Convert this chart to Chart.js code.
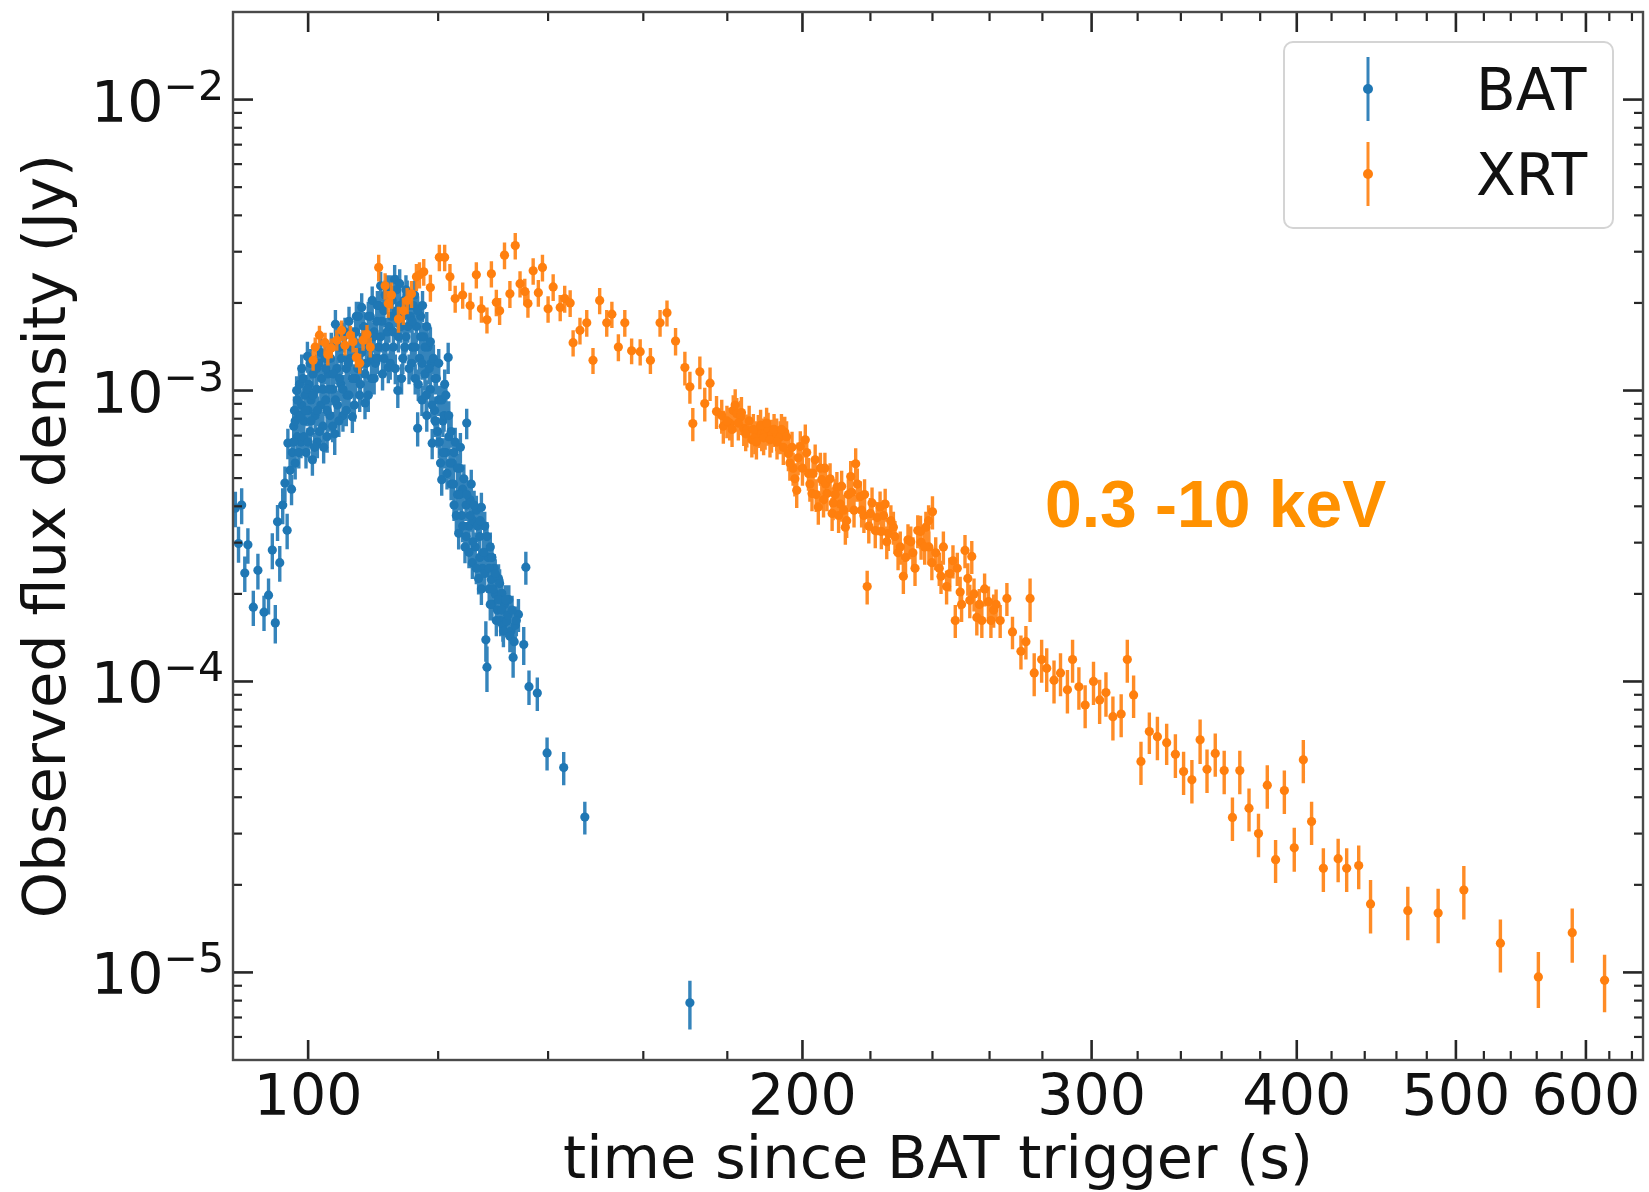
<!DOCTYPE html>
<html lang="en">
<head>
    <meta charset="UTF-8">
    <title>BAT and XRT light curve</title>
    <script src="https://cdn.jsdelivr.net/npm/chart.js"></script>
    <style>
        html, body {
            margin: 0;
            padding: 0;
            background: #ffffff;
        }
        #lc {
            display: block;
        }
    </style>
</head>
<body>
    <canvas id="lc" width="1649" height="1192"></canvas>

    <script>
        // BAT points: time since trigger (s), flux density (Jy), 1-sigma error (Jy)
        const batTime = [
            90.3, 90.7, 91.1, 91.5, 91.9, 92.6, 93.2, 94.0, 94.6, 95.1,
            95.5, 95.8, 96.1, 96.5, 96.8, 97.1, 97.2, 97.5, 97.8, 98.0,
            98.1, 98.2, 98.4, 98.5, 98.7, 98.8, 99.0, 99.1, 99.3, 99.4,
            99.6, 99.7, 99.9, 100.0, 100.1, 100.3, 100.4, 100.6, 100.7, 101.0,
            101.2, 101.3, 101.5, 101.8, 101.9, 102.1, 102.4, 102.5, 102.7, 102.8,
            103.1, 103.3, 103.5, 103.8, 103.9, 104.1, 104.2, 104.5, 104.7, 105.0,
            105.1, 105.5, 105.6, 105.9, 106.1, 106.4, 106.5, 106.9, 107.0, 107.3,
            107.5, 107.8, 108.0, 108.3, 108.5, 108.8, 108.9, 109.3, 109.4, 109.7,
            109.9, 110.2, 110.4, 110.7, 110.9, 111.2, 111.4, 111.7, 111.9, 112.2,
            112.4, 112.7, 112.9, 113.2, 113.4, 113.7, 113.9, 114.2, 114.4, 114.7,
            114.9, 115.2, 115.4, 115.7, 115.9, 116.2, 116.4, 116.6, 116.9, 117.1,
            117.3, 117.6, 117.8, 118.1, 118.3, 118.7, 118.8, 119.0, 119.4, 119.5,
            119.9, 120.1, 120.4, 120.6, 120.8, 121.1, 121.3, 121.7, 121.8, 122.2,
            122.4, 122.7, 122.9, 123.3, 123.5, 123.7, 124.0, 124.2, 124.6, 124.8,
            124.9, 125.3, 125.5, 125.9, 126.0, 126.4, 126.6, 127.0, 127.2, 127.5,
            127.7, 128.1, 128.3, 128.5, 128.7, 128.9, 129.1, 129.3, 129.4, 129.8,
            130.0, 130.4, 130.6, 131.0, 131.2, 131.4, 131.7, 132.1, 132.5, 132.9,
            133.3, 133.7, 134.3, 135.3, 135.7, 136.3, 137.9, 139.8, 143.1, 147.4,
            170.8,
            // second pass through the dense part of the pulse
            97.7, 98.0, 98.2, 98.5, 98.7, 99.0, 99.1, 99.4, 99.6, 99.9,
            100.0, 100.3, 100.4, 100.7, 100.9, 101.2, 101.3, 101.6, 101.8, 102.1,
            102.2, 102.5, 102.7, 103.0, 103.2, 103.5, 103.6, 103.9, 104.1, 104.4,
            104.5, 104.8, 105.0, 105.3, 105.5, 105.8, 105.9, 106.2, 106.4, 106.7,
            106.9, 107.2, 107.3, 107.6, 107.8, 108.1, 108.3, 108.6, 108.8, 109.1,
            109.3, 109.6, 109.7, 110.1, 110.2, 110.5, 110.7, 111.0, 111.2, 111.5,
            111.7, 112.0, 112.2, 112.5, 112.7, 113.0, 113.2, 113.5, 113.7, 114.0,
            114.2, 114.5, 114.7, 115.0, 115.2, 115.6, 115.7, 116.1, 116.2, 116.6,
            116.7, 117.1, 117.3, 117.4, 117.8, 118.0, 118.1, 118.5, 118.7, 119.0,
            119.2, 119.5, 119.7, 120.1, 120.2, 120.6, 120.8, 121.0, 121.3, 121.5,
            121.8, 122.0, 122.2, 122.6, 122.7, 123.1, 123.3, 123.7, 123.8, 124.2,
            124.4, 124.8, 124.9, 125.3, 125.5, 125.7, 126.0, 126.2, 126.6, 126.8,
            127.2, 127.3, 127.5, 127.9, 128.1, 128.5, 128.9, 129.1, 129.4, 129.6,
            130.0, 130.2, 130.6, 130.8, 131.2, 131.5, 131.9, 132.3, 132.7, 133.1,
            133.5, 133.9
        ];
        const batFlux = [
            3.94e-4, 2.98e-4, 4.04e-4, 2.36e-4, 2.95e-4, 1.80e-4, 2.41e-4, 1.73e-4, 1.98e-4, 2.83e-4,
            1.59e-4, 3.54e-4, 2.56e-4, 4.04e-4, 4.81e-4, 3.31e-4, 6.60e-4, 5.32e-4, 6.12e-4, 7.54e-4,
            8.54e-4, 5.63e-4, 1.00e-3, 6.94e-4, 8.20e-4, 1.05e-3, 6.65e-4, 8.91e-4, 1.10e-3, 7.86e-4,
            9.64e-4, 6.12e-4, 1.31e-3, 8.54e-4, 1.05e-3, 7.23e-4, 9.28e-4, 5.78e-4, 1.14e-3, 8.20e-4,
            1.01e-3, 6.65e-4, 1.24e-3, 8.91e-4, 1.10e-3, 7.54e-4, 1.29e-3, 9.28e-4, 6.94e-4, 1.14e-3,
            8.20e-4, 1.41e-3, 1.01e-3, 7.10e-4, 1.69e-3, 1.19e-3, 8.91e-4, 1.41e-3, 1.05e-3, 8.20e-4,
            1.53e-3, 1.19e-3, 9.64e-4, 1.73e-3, 1.29e-3, 8.13e-4, 1.47e-3, 1.10e-3, 1.80e-3, 1.35e-3,
            9.64e-4, 1.93e-3, 1.53e-3, 9.06e-4, 1.24e-3, 1.80e-3, 1.41e-3, 1.10e-3, 2.04e-3, 1.59e-3,
            1.24e-3, 1.96e-3, 1.41e-3, 2.29e-3, 1.73e-3, 1.29e-3, 2.13e-3, 1.59e-3, 1.20e-3, 2.22e-3,
            1.80e-3, 1.41e-3, 2.41e-3, 1.88e-3, 1.00e-3, 2.33e-3, 1.66e-3, 1.29e-3, 2.04e-3, 1.53e-3,
            2.13e-3, 1.19e-3, 1.80e-3, 1.41e-3, 1.96e-3, 1.10e-3, 1.66e-3, 7.42e-4, 1.29e-3, 1.80e-3,
            9.28e-4, 1.53e-3, 1.14e-3, 8.20e-4, 1.41e-3, 1.01e-3, 1.24e-3, 6.59e-4, 8.54e-4, 1.10e-3,
            7.23e-4, 9.28e-4, 5.63e-4, 4.94e-4, 7.86e-4, 1.05e-3, 6.12e-4, 1.30e-3, 6.94e-4, 4.77e-4,
            5.63e-4, 4.04e-4, 6.65e-4, 4.39e-4, 3.23e-4, 5.41e-4, 3.72e-4, 4.58e-4, 2.90e-4, 4.04e-4,
            7.73e-4, 3.42e-4, 4.21e-4, 2.56e-4, 3.57e-4, 2.90e-4, 3.88e-4, 2.26e-4, 3.15e-4, 3.97e-4,
            2.45e-4, 3.42e-4, 1.39e-4, 1.12e-4, 2.67e-4, 2.08e-4, 2.90e-4, 2.24e-4, 1.84e-4, 2.45e-4,
            2.00e-4, 1.76e-4, 2.26e-4, 1.62e-4, 2.01e-4, 1.56e-4, 1.84e-4, 1.61e-4, 1.91e-4, 1.49e-4,
            1.21e-4, 1.56e-4, 1.70e-4, 1.34e-4, 2.47e-4, 9.60e-5, 9.12e-5, 5.68e-5, 5.06e-5, 3.42e-5,
            7.86e-6,
            4.58e-4, 6.65e-4, 7.86e-4, 9.28e-4, 6.12e-4, 8.20e-4, 1.19e-3, 6.94e-4, 8.54e-4, 1.01e-3,
            6.65e-4, 1.24e-3, 7.86e-4, 9.64e-4, 6.38e-4, 1.19e-3, 8.54e-4, 7.23e-4, 1.35e-3, 1.01e-3,
            6.38e-4, 1.19e-3, 8.54e-4, 1.01e-3, 1.29e-3, 7.54e-4, 1.14e-3, 9.28e-4, 1.47e-3, 7.86e-4,
            1.10e-3, 1.29e-3, 1.01e-3, 1.59e-3, 8.54e-4, 1.24e-3, 9.64e-4, 1.41e-3, 1.10e-3, 8.91e-4,
            1.59e-3, 1.19e-3, 1.80e-3, 1.05e-3, 1.35e-3, 1.66e-3, 1.14e-3, 1.47e-3, 9.64e-4, 1.80e-3,
            1.29e-3, 1.53e-3, 1.10e-3, 1.73e-3, 1.29e-3, 1.96e-3, 1.53e-3, 1.14e-3, 1.88e-3, 1.41e-3,
            2.22e-3, 1.66e-3, 1.24e-3, 2.04e-3, 1.59e-3, 1.19e-3, 2.22e-3, 1.53e-3, 1.96e-3, 1.10e-3,
            1.80e-3, 1.41e-3, 2.22e-3, 1.66e-3, 1.96e-3, 1.24e-3, 1.73e-3, 2.13e-3, 1.41e-3, 1.88e-3,
            1.05e-3, 1.53e-3, 1.24e-3, 1.96e-3, 1.41e-3, 9.64e-4, 1.66e-3, 1.19e-3, 1.47e-3, 8.91e-4,
            1.29e-3, 7.86e-4, 1.10e-3, 1.24e-3, 6.65e-4, 9.28e-4, 6.12e-4, 8.20e-4, 9.64e-4, 5.19e-4,
            8.20e-4, 5.63e-4, 7.23e-4, 4.77e-4, 6.12e-4, 3.72e-4, 5.41e-4, 4.39e-4, 6.38e-4, 3.42e-4,
            4.97e-4, 3.15e-4, 4.39e-4, 2.78e-4, 3.72e-4, 4.77e-4, 3.02e-4, 4.04e-4, 2.45e-4, 3.42e-4,
            2.67e-4, 3.57e-4, 2.08e-4, 2.78e-4, 2.35e-4, 3.15e-4, 2.45e-4, 1.84e-4, 2.67e-4, 2.08e-4,
            2.35e-4, 1.62e-4, 1.91e-4, 2.17e-4, 1.76e-4, 1.49e-4, 1.91e-4, 1.69e-4, 1.43e-4, 1.76e-4,
            1.37e-4, 1.62e-4
        ];
        const batErr = [
            5.5e-5, 4.2e-5, 5.7e-5, 3.3e-5, 4.1e-5, 2.5e-5, 3.4e-5, 2.4e-5, 2.8e-5, 4.0e-5,
            2.4e-5, 5.0e-5, 3.6e-5, 5.7e-5, 6.7e-5, 4.6e-5, 7.9e-5, 6.4e-5, 7.3e-5, 9.0e-5,
            1.0e-4, 6.8e-5, 1.2e-4, 8.3e-5, 9.8e-5, 1.3e-4, 8.0e-5, 1.1e-4, 1.3e-4, 9.4e-5,
            1.2e-4, 7.3e-5, 1.6e-4, 1.0e-4, 1.3e-4, 8.7e-5, 1.1e-4, 6.9e-5, 1.4e-4, 9.8e-5,
            1.2e-4, 8.0e-5, 1.5e-4, 1.1e-4, 1.3e-4, 9.0e-5, 1.5e-4, 1.1e-4, 8.3e-5, 1.4e-4,
            9.8e-5, 1.7e-4, 1.2e-4, 1.1e-4, 2.0e-4, 1.4e-4, 1.1e-4, 1.7e-4, 1.3e-4, 9.8e-5,
            1.8e-4, 1.4e-4, 1.2e-4, 2.1e-4, 1.5e-4, 9.8e-5, 1.8e-4, 1.3e-4, 2.2e-4, 1.6e-4,
            1.2e-4, 2.3e-4, 1.8e-4, 1.1e-4, 1.5e-4, 2.2e-4, 1.7e-4, 1.3e-4, 2.4e-4, 1.9e-4,
            1.5e-4, 2.4e-4, 1.7e-4, 2.7e-4, 2.1e-4, 1.5e-4, 2.6e-4, 1.9e-4, 1.4e-4, 2.7e-4,
            2.2e-4, 1.7e-4, 2.9e-4, 2.3e-4, 1.3e-4, 2.8e-4, 2.0e-4, 1.5e-4, 2.4e-4, 1.8e-4,
            2.6e-4, 1.4e-4, 2.2e-4, 1.7e-4, 2.4e-4, 1.3e-4, 2.0e-4, 1.0e-4, 1.5e-4, 2.2e-4,
            1.1e-4, 1.8e-4, 1.4e-4, 9.8e-5, 1.7e-4, 1.2e-4, 1.5e-4, 7.9e-5, 1.0e-4, 1.3e-4,
            8.7e-5, 1.1e-4, 6.8e-5, 5.9e-5, 9.4e-5, 1.3e-4, 7.3e-5, 1.6e-4, 8.3e-5, 5.7e-5,
            6.8e-5, 4.8e-5, 8.0e-5, 5.3e-5, 3.9e-5, 6.5e-5, 4.5e-5, 5.5e-5, 3.5e-5, 4.8e-5,
            9.3e-5, 4.1e-5, 5.1e-5, 3.1e-5, 4.3e-5, 3.5e-5, 4.7e-5, 2.7e-5, 3.8e-5, 4.8e-5,
            2.9e-5, 4.1e-5, 2.2e-5, 2.0e-5, 3.2e-5, 2.5e-5, 3.5e-5, 2.7e-5, 2.2e-5, 2.9e-5,
            2.4e-5, 2.1e-5, 2.7e-5, 1.9e-5, 2.4e-5, 1.9e-5, 2.2e-5, 1.9e-5, 2.3e-5, 1.8e-5,
            1.8e-5, 1.9e-5, 2.2e-5, 2.0e-5, 3.2e-5, 1.3e-5, 1.2e-5, 7.4e-6, 6.6e-6, 4.4e-6,
            1.5e-6,
            5.5e-5, 8.0e-5, 9.4e-5, 1.1e-4, 7.3e-5, 9.8e-5, 1.4e-4, 8.3e-5, 1.0e-4, 1.2e-4,
            8.0e-5, 1.5e-4, 9.4e-5, 1.2e-4, 7.7e-5, 1.4e-4, 1.0e-4, 8.7e-5, 1.6e-4, 1.2e-4,
            7.7e-5, 1.4e-4, 1.0e-4, 1.2e-4, 1.5e-4, 9.0e-5, 1.4e-4, 1.1e-4, 1.8e-4, 9.4e-5,
            1.3e-4, 1.5e-4, 1.2e-4, 1.9e-4, 1.0e-4, 1.5e-4, 1.2e-4, 1.7e-4, 1.3e-4, 1.1e-4,
            1.9e-4, 1.4e-4, 2.2e-4, 1.3e-4, 1.6e-4, 2.0e-4, 1.4e-4, 1.8e-4, 1.2e-4, 2.2e-4,
            1.5e-4, 1.8e-4, 1.3e-4, 2.1e-4, 1.5e-4, 2.4e-4, 1.8e-4, 1.4e-4, 2.3e-4, 1.7e-4,
            2.7e-4, 2.0e-4, 1.5e-4, 2.4e-4, 1.9e-4, 1.4e-4, 2.7e-4, 1.8e-4, 2.4e-4, 1.3e-4,
            2.2e-4, 1.7e-4, 2.7e-4, 2.0e-4, 2.4e-4, 1.5e-4, 2.1e-4, 2.6e-4, 1.7e-4, 2.3e-4,
            1.3e-4, 1.8e-4, 1.5e-4, 2.4e-4, 1.7e-4, 1.2e-4, 2.0e-4, 1.4e-4, 1.8e-4, 1.1e-4,
            1.5e-4, 9.4e-5, 1.3e-4, 1.5e-4, 8.0e-5, 1.1e-4, 7.3e-5, 9.8e-5, 1.2e-4, 6.2e-5,
            9.8e-5, 6.8e-5, 8.7e-5, 5.7e-5, 7.3e-5, 4.5e-5, 6.5e-5, 5.3e-5, 7.7e-5, 4.1e-5,
            6.0e-5, 3.8e-5, 5.3e-5, 3.3e-5, 4.5e-5, 5.7e-5, 3.6e-5, 4.8e-5, 2.9e-5, 4.1e-5,
            3.2e-5, 4.3e-5, 2.5e-5, 3.3e-5, 2.8e-5, 3.8e-5, 2.9e-5, 2.2e-5, 3.2e-5, 2.5e-5,
            2.8e-5, 1.9e-5, 2.3e-5, 2.6e-5, 2.1e-5, 1.8e-5, 2.3e-5, 2.0e-5, 1.7e-5, 2.1e-5,
            1.7e-5, 1.9e-5
        ];

        // XRT points
        const xrtTime = [
            100.7, 101.0, 101.6, 102.4, 102.8, 103.3, 104.1, 104.8, 105.3, 106.1,
            106.5, 107.0, 107.5, 108.0, 108.6, 109.1,
            110.4, 111.4, 111.9, 112.4, 113.5, 114.3, 114.9, 115.6, 116.4, 116.9, 117.6, 118.7,
            120.2, 121.1, 122.0, 122.9, 124.2, 125.5, 126.6, 127.5, 128.5, 129.3, 130.2,
            130.8, 131.7, 132.7, 133.7, 134.6, 135.5, 136.1, 137.1, 138.1, 138.9,
            140.0, 141.0, 142.4, 143.3, 144.4, 145.0, 146.4, 147.8, 149.1, 150.5,
            152.0, 153.1, 154.5, 155.9, 157.4, 159.3, 161.6, 163.8, 165.4, 167.4,
            169.6, 170.8, 171.5, 173.2, 174.4, 175.7, 177.3, 179.0, 180.6, 181.5,
            182.4, 183.4, 184.2, 185.0, 186.3, 187.2, 188.0, 188.9, 189.8, 190.6,
            191.5, 192.9, 193.9, 195.1, 196.1, 197.4, 198.4, 199.4, 200.8, 201.7,
            202.7, 203.6, 204.5, 205.5, 206.4, 207.0, 208.5, 209.9, 210.9, 212.4,
            213.3, 214.0, 215.5, 216.9, 218.0, 219.0, 220.0, 221.5, 223.0, 224.6,
            225.6, 227.2, 228.7, 230.4, 231.9, 233.5, 235.1, 236.2, 237.8, 238.8,
            240.0, 241.1, 242.9, 244.8, 247.0, 247.8, 249.5, 251.2, 252.9, 253.6,
            255.4, 257.2, 259.6, 261.5, 263.9,
            266.4, 268.5, 271.7, 273.6,
            275.2, 276.8, 279.7, 281.7, 284.6, 287.2, 290.0, 292.1, 294.7, 297.3,
            300.8, 303.4, 306.1, 309.1, 312.7, 315.4, 318.2, 321.5, 325.3, 329.0,
            333.3, 337.4, 341.3, 345.3, 349.3, 352.7, 356.8, 361.3, 365.5, 369.3,
            374.1, 379.1, 383.8, 388.3, 393.1, 398.6, 403.7, 408.4, 415.2, 423.9,
            429.0, 436.3, 443.6, 467.4, 487.7, 505.6, 532.2, 561.3, 588.6, 615.9,
            // dense stretch of the decay
            178.6, 179.9, 181.2, 182.0, 182.8, 183.6, 184.7, 185.6, 186.7, 187.5,
            188.6, 189.4, 190.2, 191.1, 192.2, 193.0, 194.2, 194.7, 195.6, 196.5,
            197.1, 197.9, 198.8, 200.0, 201.2, 202.1, 203.0, 203.9, 205.1, 206.0,
            206.6, 207.9, 208.8, 209.4, 210.4, 211.3, 211.9, 212.8, 214.3, 215.0,
            216.0, 217.3, 218.2, 219.5, 220.5, 222.1, 223.4, 224.1, 225.1, 226.4,
            227.7, 229.4, 231.1, 232.8, 234.2, 236.0, 237.4, 238.7, 239.8, 242.3,
            243.7, 245.9, 248.5, 250.0, 252.2, 254.4, 256.3, 258.2, 260.5, 262.4
        ];
        const xrtFlux = [
            1.27e-3, 1.41e-3, 1.55e-3, 1.46e-3, 1.33e-3, 1.40e-3, 1.49e-3, 1.61e-3, 1.43e-3, 1.55e-3,
            1.47e-3, 1.30e-3, 1.24e-3, 1.49e-3, 1.56e-3, 1.41e-3,
            2.65e-3, 2.29e-3, 1.99e-3, 2.13e-3, 1.76e-3, 1.88e-3, 2.04e-3, 2.15e-3, 2.46e-3, 2.50e-3, 2.56e-3, 2.26e-3,
            2.87e-3, 2.87e-3, 2.46e-3, 2.07e-3, 2.13e-3, 1.96e-3, 2.50e-3, 1.91e-3, 1.75e-3, 2.52e-3, 2.01e-3,
            1.88e-3, 2.92e-3, 2.15e-3, 3.15e-3, 2.33e-3, 2.19e-3, 1.99e-3, 2.58e-3, 2.17e-3, 2.65e-3,
            1.91e-3, 2.27e-3, 1.93e-3, 2.07e-3, 2.00e-3, 1.46e-3, 1.61e-3, 1.71e-3, 1.27e-3, 2.04e-3,
            1.71e-3, 1.83e-3, 1.41e-3, 1.71e-3, 1.37e-3, 1.36e-3, 1.27e-3, 1.71e-3, 1.85e-3, 1.48e-3,
            1.20e-3, 1.03e-3, 7.70e-4, 1.16e-3, 9.02e-4, 1.06e-3, 8.47e-4, 7.54e-4, 7.73e-4, 8.54e-4,
            8.32e-4, 8.13e-4, 7.41e-4, 7.32e-4, 6.77e-4, 6.94e-4, 7.29e-4, 7.10e-4, 7.19e-4, 7.42e-4,
            7.02e-4, 7.10e-4, 6.94e-4, 7.19e-4, 6.07e-4, 5.41e-4, 4.54e-4, 6.42e-4, 6.77e-4, 5.19e-4,
            4.43e-4, 5.78e-4, 3.98e-4, 4.94e-4, 5.41e-4, 4.43e-4, 3.78e-4, 4.65e-4, 4.07e-4, 3.39e-4,
            4.39e-4, 5.06e-4, 5.60e-4, 4.32e-4, 3.72e-4, 2.12e-4, 3.78e-4, 3.30e-4, 3.98e-4, 4.07e-4,
            3.23e-4, 3.39e-4, 2.77e-4, 2.30e-4, 3.07e-4, 2.77e-4, 3.30e-4, 3.01e-4, 3.39e-4, 2.90e-4,
            3.83e-4, 2.77e-4, 2.30e-4, 2.12e-4, 2.60e-4, 1.62e-4, 2.03e-4, 2.82e-4, 1.90e-4, 2.69e-4,
            1.66e-4, 1.62e-4, 1.88e-4, 1.76e-4, 1.62e-4,
            1.93e-4, 1.48e-4, 1.27e-4, 1.37e-4,
            1.93e-4, 1.07e-4, 1.19e-4, 1.11e-4, 1.01e-4, 1.07e-4, 9.36e-5, 1.19e-4, 9.59e-5, 8.30e-5,
            1.00e-4, 8.64e-5, 9.16e-5, 7.57e-5, 7.73e-5, 1.19e-4, 8.99e-5, 5.31e-5, 6.73e-5, 6.46e-5,
            6.16e-5, 5.62e-5, 4.90e-5, 4.59e-5, 6.30e-5, 4.99e-5, 5.66e-5, 4.94e-5, 3.41e-5, 4.94e-5,
            3.67e-5, 3.00e-5, 4.40e-5, 2.44e-5, 4.22e-5, 2.68e-5, 5.38e-5, 3.30e-5, 2.28e-5, 2.46e-5,
            2.28e-5, 2.33e-5, 1.72e-5, 1.63e-5, 1.60e-5, 1.92e-5, 1.26e-5, 9.65e-6, 1.37e-5, 9.39e-6,
            8.20e-4, 7.86e-4, 7.35e-4, 8.91e-4, 7.73e-4, 8.40e-4, 7.10e-4, 7.86e-4, 7.35e-4, 6.65e-4,
            7.60e-4, 6.88e-4, 7.73e-4, 6.77e-4, 7.35e-4, 6.65e-4, 7.35e-4, 6.38e-4, 6.94e-4, 5.63e-4,
            6.38e-4, 4.97e-4, 5.87e-4, 5.41e-4, 6.12e-4, 4.77e-4, 5.19e-4, 4.39e-4, 5.41e-4, 4.21e-4,
            4.77e-4, 4.97e-4, 4.11e-4, 4.39e-4, 3.72e-4, 4.69e-4, 3.88e-4, 3.57e-4, 4.47e-4, 3.88e-4,
            4.77e-4, 3.88e-4, 4.39e-4, 3.42e-4, 4.11e-4, 3.66e-4, 3.28e-4, 3.72e-4, 3.02e-4, 3.57e-4,
            3.15e-4, 2.90e-4, 2.67e-4, 3.02e-4, 2.45e-4, 3.28e-4, 2.90e-4, 3.57e-4, 2.56e-4, 2.45e-4,
            2.90e-4, 2.35e-4, 2.45e-4, 1.84e-4, 2.26e-4, 2.00e-4, 1.84e-4, 2.08e-4, 1.62e-4, 1.84e-4
        ];
        const xrtErr = [
            1.0e-4, 1.1e-4, 1.2e-4, 1.2e-4, 1.1e-4, 1.1e-4, 1.2e-4, 1.3e-4, 1.1e-4, 1.2e-4,
            1.2e-4, 1.0e-4, 9.9e-5, 1.2e-4, 1.2e-4, 1.1e-4,
            2.8e-4, 2.4e-4, 2.1e-4, 2.2e-4, 1.8e-4, 2.0e-4, 2.1e-4, 2.3e-4, 2.6e-4, 2.6e-4, 2.7e-4, 2.4e-4,
            3.0e-4, 3.0e-4, 2.6e-4, 2.2e-4, 2.2e-4, 2.1e-4, 2.6e-4, 2.0e-4, 1.8e-4, 2.6e-4, 2.1e-4,
            2.0e-4, 3.1e-4, 2.3e-4, 3.3e-4, 2.4e-4, 2.3e-4, 2.1e-4, 2.7e-4, 2.3e-4, 2.8e-4,
            2.0e-4, 2.4e-4, 2.0e-4, 2.2e-4, 2.1e-4, 1.5e-4, 1.7e-4, 1.8e-4, 1.3e-4, 2.1e-4,
            1.8e-4, 1.9e-4, 1.5e-4, 1.8e-4, 1.4e-4, 1.4e-4, 1.3e-4, 1.8e-4, 1.9e-4, 1.6e-4,
            1.6e-4, 1.3e-4, 1.0e-4, 1.5e-4, 1.2e-4, 1.4e-4, 1.1e-4, 9.8e-5, 1.0e-4, 1.1e-4,
            1.1e-4, 1.1e-4, 9.6e-5, 9.5e-5, 8.8e-5, 9.0e-5, 9.5e-5, 9.2e-5, 9.3e-5, 9.6e-5,
            9.1e-5, 9.2e-5, 9.0e-5, 9.3e-5, 7.9e-5, 7.0e-5, 5.9e-5, 8.3e-5, 8.8e-5, 6.7e-5,
            5.8e-5, 7.5e-5, 5.2e-5, 6.4e-5, 7.0e-5, 5.8e-5, 4.9e-5, 6.0e-5, 5.3e-5, 4.4e-5,
            5.7e-5, 6.6e-5, 7.3e-5, 5.6e-5, 4.8e-5, 2.8e-5, 4.9e-5, 4.3e-5, 5.2e-5, 5.3e-5,
            4.2e-5, 4.4e-5, 3.6e-5, 3.0e-5, 4.0e-5, 3.6e-5, 4.3e-5, 3.9e-5, 4.4e-5, 3.8e-5,
            5.0e-5, 3.6e-5, 3.0e-5, 2.8e-5, 3.4e-5, 2.1e-5, 2.6e-5, 3.7e-5, 2.5e-5, 3.5e-5,
            2.2e-5, 2.1e-5, 2.4e-5, 2.3e-5, 2.1e-5,
            2.5e-5, 1.9e-5, 1.7e-5, 1.8e-5,
            3.3e-5, 1.8e-5, 2.0e-5, 1.9e-5, 1.7e-5, 1.8e-5, 1.6e-5, 2.0e-5, 1.6e-5, 1.4e-5,
            1.7e-5, 1.5e-5, 1.6e-5, 1.3e-5, 1.3e-5, 2.0e-5, 1.5e-5, 9.0e-6, 1.1e-5, 1.1e-5,
            1.0e-5, 9.6e-6, 8.3e-6, 7.8e-6, 1.1e-5, 8.5e-6, 9.6e-6, 8.4e-6, 5.8e-6, 8.4e-6,
            6.2e-6, 5.1e-6, 7.5e-6, 4.1e-6, 7.2e-6, 4.6e-6, 9.1e-6, 5.6e-6, 3.9e-6, 4.2e-6,
            3.9e-6, 4.0e-6, 3.6e-6, 3.4e-6, 3.4e-6, 4.0e-6, 2.6e-6, 2.1e-6, 2.9e-6, 2.1e-6,
            1.1e-4, 1.0e-4, 9.6e-5, 1.2e-4, 1.0e-4, 1.1e-4, 9.2e-5, 1.0e-4, 9.6e-5, 8.6e-5,
            9.9e-5, 8.9e-5, 1.0e-4, 8.8e-5, 9.6e-5, 8.6e-5, 9.6e-5, 8.3e-5, 9.0e-5, 7.3e-5,
            8.3e-5, 6.5e-5, 7.6e-5, 7.0e-5, 8.0e-5, 6.2e-5, 6.7e-5, 5.7e-5, 7.0e-5, 5.5e-5,
            6.2e-5, 6.5e-5, 5.3e-5, 5.7e-5, 4.8e-5, 6.1e-5, 5.0e-5, 4.6e-5, 5.8e-5, 5.0e-5,
            6.2e-5, 5.0e-5, 5.7e-5, 4.4e-5, 5.3e-5, 4.8e-5, 4.3e-5, 4.8e-5, 3.9e-5, 4.6e-5,
            4.1e-5, 3.8e-5, 3.5e-5, 3.9e-5, 3.2e-5, 4.3e-5, 3.8e-5, 4.6e-5, 3.3e-5, 3.2e-5,
            3.8e-5, 3.1e-5, 3.2e-5, 2.4e-5, 2.9e-5, 2.6e-5, 2.4e-5, 2.7e-5, 2.1e-5, 2.3e-5
        ];

        // axes: ranges, ticks and labels
        const xRange = [90, 650];
        const yRange = [5e-6, 2e-2];
        const xMajorTicks = [100, 200, 300, 400, 500, 600];
        const xTickLabels = ['100', '200', '300', '400', '500', '600'];
        const xMinorTicks = [120, 140, 160, 180, 220, 240, 260, 280, 320, 340, 360, 380,
                             420, 440, 460, 480, 520, 540, 560, 580, 620, 640];
        const yMajorTicks = [1e-5, 1e-4, 1e-3, 1e-2];
        const yTickBase = '10';
        const yTickExponents = ['\u22125', '\u22124', '\u22123', '\u22122'];
        const yMinorTicks = [6e-6, 7e-6, 8e-6, 9e-6,
                             2e-5, 3e-5, 4e-5, 5e-5, 6e-5, 7e-5, 8e-5, 9e-5,
                             2e-4, 3e-4, 4e-4, 5e-4, 6e-4, 7e-4, 8e-4, 9e-4,
                             2e-3, 3e-3, 4e-3, 5e-3, 6e-3, 7e-3, 8e-3, 9e-3];
        const xTitle = 'time since BAT trigger (s)';
        const yTitle = 'Observed flux density (Jy)';

        // band label, placed in data coordinates (s, Jy)
        const bandText = '0.3 -10 keV';
        const bandAt = { x: 281, y: 3.39e-4 };

        const FONT = '"DejaVu Sans", Verdana, sans-serif';
        const BLUE = '#1f77b4';
        const ORANGE = '#ff7f0e';

        function toPoints(t, f) {
            return t.map((v, i) => ({ x: v, y: f[i] }));
        }

        // vertical error bars under each dataset's markers
        const errorBars = {
            id: 'errorBars',
            beforeDatasetDraw(chart, args) {
                const ds = chart.data.datasets[args.index];
                const sx = chart.scales.x;
                const sy = chart.scales.y;
                const c = chart.ctx;
                c.save();
                c.strokeStyle = ds.backgroundColor;
                c.globalAlpha = 0.9;
                c.lineWidth = 3.4;
                c.beginPath();
                ds.data.forEach((p, i) => {
                    const e = ds.errors[i];
                    const px = sx.getPixelForValue(p.x);
                    c.moveTo(px, sy.getPixelForValue(p.y + e));
                    c.lineTo(px, sy.getPixelForValue(p.y - e));
                });
                c.stroke();
                c.restore();
            }
        };

        // matplotlib-like frame: inward ticks on all sides, labels, legend, band text
        const frame = {
            id: 'frame',
            afterDraw(chart) {
                const c = chart.ctx;
                const a = chart.chartArea;
                const sx = chart.scales.x;
                const sy = chart.scales.y;

                c.save();
                c.strokeStyle = '#262626';
                const seg = (x1, y1, x2, y2, w) => {
                    c.lineWidth = w;
                    c.beginPath();
                    c.moveTo(x1, y1);
                    c.lineTo(x2, y2);
                    c.stroke();
                };
                xMajorTicks.forEach(v => {
                    const p = sx.getPixelForValue(v);
                    seg(p, a.bottom, p, a.bottom - 20, 2.6);
                    seg(p, a.top, p, a.top + 20, 2.6);
                });
                xMinorTicks.forEach(v => {
                    const p = sx.getPixelForValue(v);
                    seg(p, a.bottom, p, a.bottom - 9, 2.2);
                    seg(p, a.top, p, a.top + 9, 2.2);
                });
                yMajorTicks.forEach(v => {
                    const p = sy.getPixelForValue(v);
                    seg(a.left, p, a.left + 20, p, 2.6);
                    seg(a.right, p, a.right - 20, p, 2.6);
                });
                yMinorTicks.forEach(v => {
                    const p = sy.getPixelForValue(v);
                    seg(a.left, p, a.left + 9, p, 2.2);
                    seg(a.right, p, a.right - 9, p, 2.2);
                });

                c.strokeStyle = '#4a4a4a';
                c.lineWidth = 2.4;
                c.strokeRect(a.left, a.top, a.right - a.left, a.bottom - a.top);

                // tick labels
                c.fillStyle = '#111111';
                c.textBaseline = 'alphabetic';
                c.font = '57px ' + FONT;
                c.textAlign = 'center';
                xMajorTicks.forEach((v, i) => {
                    c.fillText(xTickLabels[i], sx.getPixelForValue(v), a.bottom + 55);
                });
                c.textAlign = 'right';
                yMajorTicks.forEach((v, i) => {
                    const p = sy.getPixelForValue(v);
                    c.font = '41px ' + FONT;
                    const ew = c.measureText(yTickExponents[i]).width;
                    c.fillText(yTickExponents[i], a.left - 9, p);
                    c.font = '57px ' + FONT;
                    c.fillText(yTickBase, a.left - 9 - ew, p + 22);
                });

                // axis titles
                c.font = '59px ' + FONT;
                c.textAlign = 'center';
                c.fillText(xTitle, (a.left + a.right) / 2, a.bottom + 118);
                c.save();
                c.translate(65, (a.top + a.bottom) / 2);
                c.rotate(-Math.PI / 2);
                c.fillText(yTitle, 0, 0);
                c.restore();

                // band label
                c.font = 'bold 66px "Liberation Sans", Arial, sans-serif';
                c.fillStyle = '#ff9100';
                c.textAlign = 'left';
                c.fillText(bandText, sx.getPixelForValue(bandAt.x), sy.getPixelForValue(bandAt.y));

                // legend box
                const bx = 1284, by = 42, bw = 329, bh = 186, r = 9;
                c.beginPath();
                c.moveTo(bx + r, by);
                c.arcTo(bx + bw, by, bx + bw, by + bh, r);
                c.arcTo(bx + bw, by + bh, bx, by + bh, r);
                c.arcTo(bx, by + bh, bx, by, r);
                c.arcTo(bx, by, bx + bw, by, r);
                c.closePath();
                c.fillStyle = 'rgba(255,255,255,0.8)';
                c.fill();
                c.strokeStyle = '#d4d4d4';
                c.lineWidth = 2;
                c.stroke();

                const rows = [89, 174];
                chart.data.datasets.slice().reverse().forEach((ds, i) => {
                    const cy = rows[i];
                    c.strokeStyle = ds.backgroundColor;
                    c.globalAlpha = 0.9;
                    c.lineWidth = 3;
                    c.beginPath();
                    c.moveTo(1368, cy - 32);
                    c.lineTo(1368, cy + 32);
                    c.stroke();
                    c.globalAlpha = 1;
                    c.fillStyle = ds.backgroundColor;
                    c.beginPath();
                    c.arc(1368, cy, 5, 0, Math.PI * 2);
                    c.fill();
                    c.fillStyle = '#111111';
                    c.font = '58px ' + FONT;
                    c.textAlign = 'left';
                    c.fillText(ds.label, 1476, cy + 21);
                });
                c.restore();
            }
        };

        const ctx = document.getElementById('lc').getContext('2d');
        const chart = new Chart(ctx, {
            type: 'scatter',
            data: {
                datasets: [
                    {
                        label: 'XRT',
                        data: toPoints(xrtTime, xrtFlux),
                        errors: xrtErr,
                        backgroundColor: ORANGE,
                        pointBackgroundColor: ORANGE,
                        pointRadius: 4.6,
                        pointBorderWidth: 0,
                        order: 1
                    },
                    {
                        label: 'BAT',
                        data: toPoints(batTime, batFlux),
                        errors: batErr,
                        backgroundColor: BLUE,
                        pointBackgroundColor: BLUE,
                        pointRadius: 4.6,
                        pointBorderWidth: 0,
                        order: 2
                    }
                ]
            },
            options: {
                responsive: false,
                animation: false,
                events: [],
                layout: { padding: { left: 233, top: 12, right: 6, bottom: 132 } },
                scales: {
                    x: { type: 'logarithmic', min: xRange[0], max: xRange[1], display: false },
                    y: { type: 'logarithmic', min: yRange[0], max: yRange[1], display: false }
                },
                plugins: {
                    legend: { display: false },
                    tooltip: { enabled: false }
                }
            },
            plugins: [errorBars, frame]
        });
    </script>
</body>
</html>
